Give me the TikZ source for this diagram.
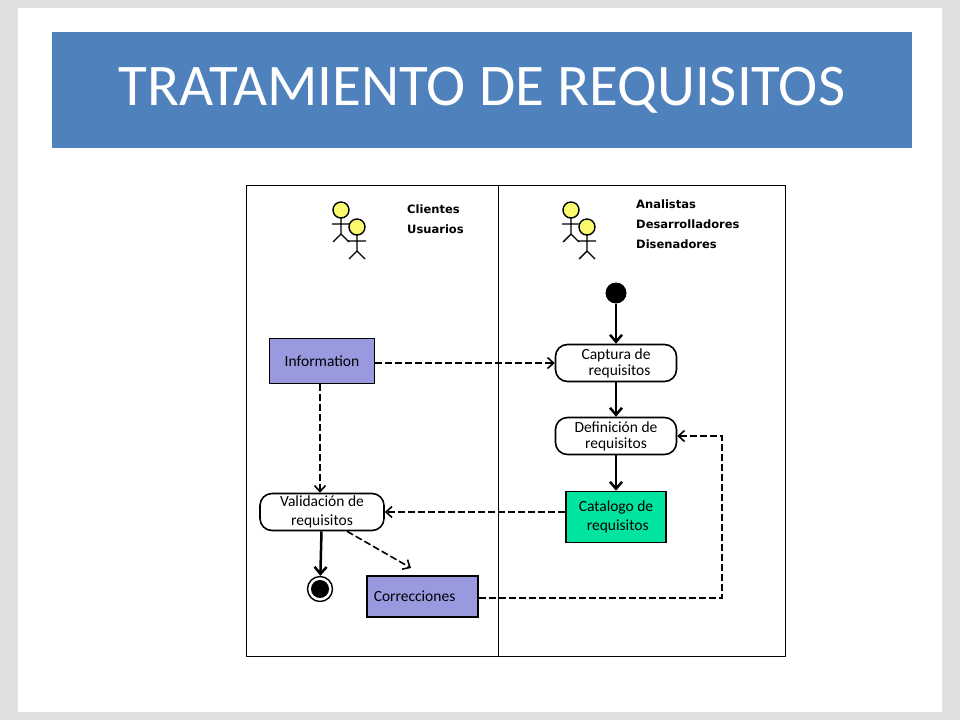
\documentclass[tikz,border=0pt]{standalone}
\usepackage{fontspec}
\setmainfont{Carlito}
\newfontfamily\rolefont{DejaVu Sans}
\usetikzlibrary{arrows.meta,positioning}
\definecolor{titleblue}{RGB}{79,129,189}
\definecolor{lilac}{RGB}{153,153,224}
\definecolor{mint}{RGB}{0,228,160}
\definecolor{headyellow}{RGB}{250,250,110}
\begin{document}
\begin{tikzpicture}[x=1pt,y=-1pt,
    box/.style={draw, line width=1.6pt, rectangle, inner sep=0pt, font=\fontsize{15.5}{16}\selectfont, align=center},
    activity/.style={draw, line width=1.6pt, rectangle, rounded corners=12pt, fill=white, minimum width=121pt, minimum height=37pt, inner sep=0pt, font=\fontsize{15.5}{16}\selectfont, align=center},
    flow/.style={-{Straight Barb[length=7pt,width=12pt]}, line width=2.5pt},
    dep/.style={-{Straight Barb[length=6pt,width=11pt]}, line width=1.6pt, dash pattern=on 7pt off 3pt},
    role/.style={font=\rolefont\bfseries\fontsize{11.5}{20}\selectfont, align=left, anchor=north west, inner sep=0pt}
  ]
  \useasboundingbox (0,0) rectangle (960,720);
  \fill[gray!25] (0,0) rectangle (960,720);
  \fill[white] (18,8) rectangle (942,712);

  % Title bar
  \node[draw=white, line width=2pt, fill=titleblue, minimum width=862pt, minimum height=118pt, anchor=north west,
        text=white, font=\fontsize{59}{62}\selectfont] (title) at (50,30) {TRATAMIENTO DE REQUISITOS};

  % Swimlanes
  \draw (246,185) rectangle (785,656);
  \draw (498,185) -- (498,656);

  % Actors
  \foreach \hx/\hy in {341/210, 357/227, 571/210, 587/227} {
    \draw[line width=1.4pt] (\hx,\hy+8) -- (\hx,\hy+24) (\hx-9,\hy+14) -- (\hx+9,\hy+14)
      (\hx-8,\hy+32) -- (\hx,\hy+24) -- (\hx+8,\hy+32);
    \draw[line width=1.4pt, fill=headyellow] (\hx,\hy) circle (8);
  }
  \node[role] (clients) at (407,205) {Clientes\\Usuarios};
  \node[role] (team) at (636,200) {Analistas\\Desarrolladores\\Disenadores};

  % Nodes
  \node[circle, fill=black, minimum size=21pt, inner sep=0pt] (start) at (616,293) {};
  \node[activity] (capture) at (616,363) {Captura de\\ \ \ requisitos};
  \node[activity] (define) at (616,436) {Definición de\\requisitos};
  \node[box, fill=mint, minimum width=100pt, minimum height=51pt] (catalog) at (616,517) {Catalogo de\\[3pt] \ requisitos};
  \node[box, fill=lilac, minimum width=105pt, minimum height=45pt] (info) at (322,361) {Information};
  \node[activity, minimum width=124pt] (validate) at (322,512) {Validación de\\[3pt] requisitos};
  \node[circle, draw, line width=1.4pt, minimum size=25pt, inner sep=0pt] (finish) at (320,589) {};
  \node[circle, fill=black, minimum size=18pt, inner sep=0pt] (finishdot) at (finish) {};
  \node[box, fill=lilac, minimum width=111pt, minimum height=41pt, anchor=north west, text width=103pt, align=left] (fix) at (366,575) {\hspace*{3pt}Correcciones};
  \coordinate (fixtop) at (411,568);
  \coordinate (loop) at (722,598);

  % Connectors
  \draw[flow] (start) -- (capture);
  \draw[flow] (capture) -- (define);
  \draw[flow] (define) -- (catalog);
  \draw[flow] (validate) -- (finish);
  \draw[dep] (info.east |- capture) -- (capture.west);
  \draw[dep] (info.south -| 320,0) -- (validate.north -| 320,0);
  \draw[dep] (catalog.west |- validate) -- (validate.east);
  \draw[dep] (validate.south) ++(25,0) -- (fixtop);
  \draw[dep] (fix.east |- loop) -- (loop) |- (define.east);
\end{tikzpicture}
\end{document}
